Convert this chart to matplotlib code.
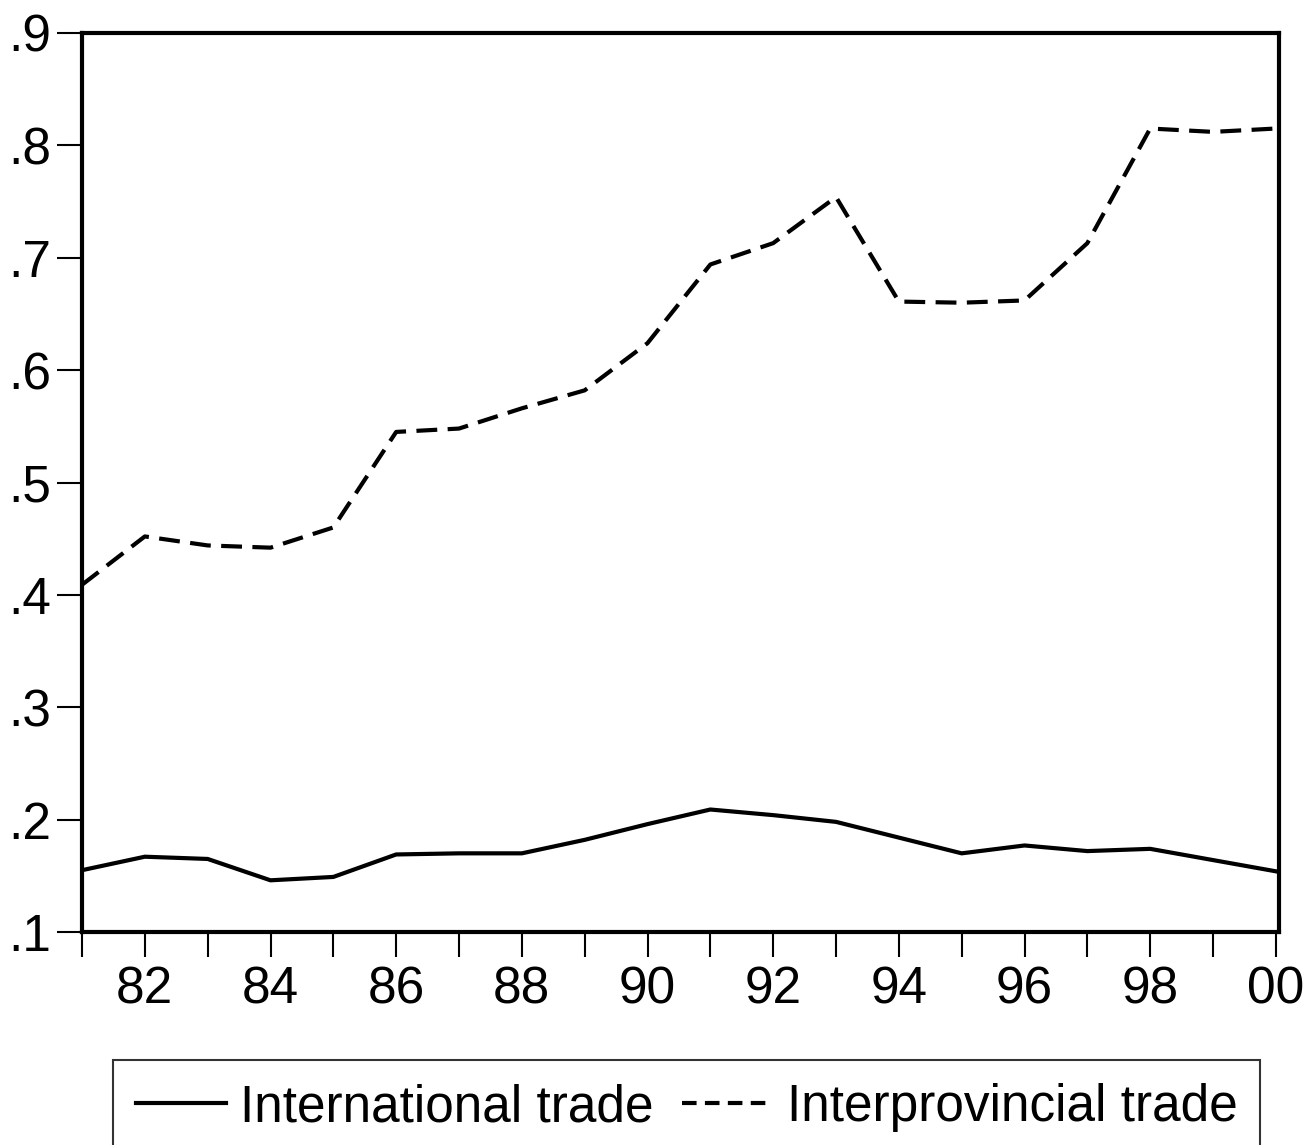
import matplotlib
matplotlib.use("Agg")
import matplotlib.pyplot as plt
import numpy as np

plt.rcParams['font.family'] = ['Liberation Sans', 'DejaVu Sans']

years = list(range(1981, 2001))
international = [0.155, 0.167, 0.165, 0.146, 0.149, 0.169, 0.170, 0.170, 0.182, 0.196,
                 0.209, 0.204, 0.198, 0.184, 0.170, 0.177, 0.172, 0.174, 0.164, 0.154]
interprovincial = [0.409, 0.452, 0.444, 0.442, 0.460, 0.545, 0.548, 0.566, 0.582, 0.624,
                   0.694, 0.713, 0.754, 0.661, 0.660, 0.662, 0.713, 0.815, 0.812, 0.815]
y_ticks = [0.1, 0.2, 0.3, 0.4, 0.5, 0.6, 0.7, 0.8, 0.9]
y_labels = ['.1', '.2', '.3', '.4', '.5', '.6', '.7', '.8', '.9']
x_major = [1982, 1984, 1986, 1988, 1990, 1992, 1994, 1996, 1998, 2000]
x_labels = ['82', '84', '86', '88', '90', '92', '94', '96', '98', '00']

fig = plt.figure(figsize=(13.15, 11.45), dpi=100)
ax = fig.add_axes([82 / 1315, 1 - 932 / 1145, 1197 / 1315, 899 / 1145])

ax.plot(years, international, color='black', lw=3, label='International trade')
ax.plot(years, interprovincial, color='black', lw=3, dashes=(5, 2.5),
        label='Interprovincial trade')

ax.set_xlim(1981, 2000.05)
ax.set_ylim(0.1, 0.9)
ax.set_yticks(y_ticks)
ax.set_yticklabels(y_labels)
ax.set_xticks(x_major)
ax.set_xticklabels(x_labels)
ax.set_xticks(years, minor=True)

for s in ax.spines.values():
    s.set_linewidth(3)
ax.tick_params(axis='both', which='both', direction='out', width=1.5,
               length=18, labelsize=37, pad=6)
ax.tick_params(axis='y', pad=4)

leg = fig.legend(loc='upper left', bbox_to_anchor=(113 / 1315, 1 - 1060 / 1145),
                 ncol=2, fontsize=37, frameon=True, fancybox=False,
                 edgecolor='black', handlelength=1.75, handletextpad=0.28,
                 columnspacing=0.55, borderpad=0.45, borderaxespad=0)
leg.get_frame().set_linewidth(1.5)
# shorter dashes in the key so four of them fit, as in the original
leg.get_lines()[1].set_dashes((3.5, 2))

fig.savefig('out.png', dpi=100)
